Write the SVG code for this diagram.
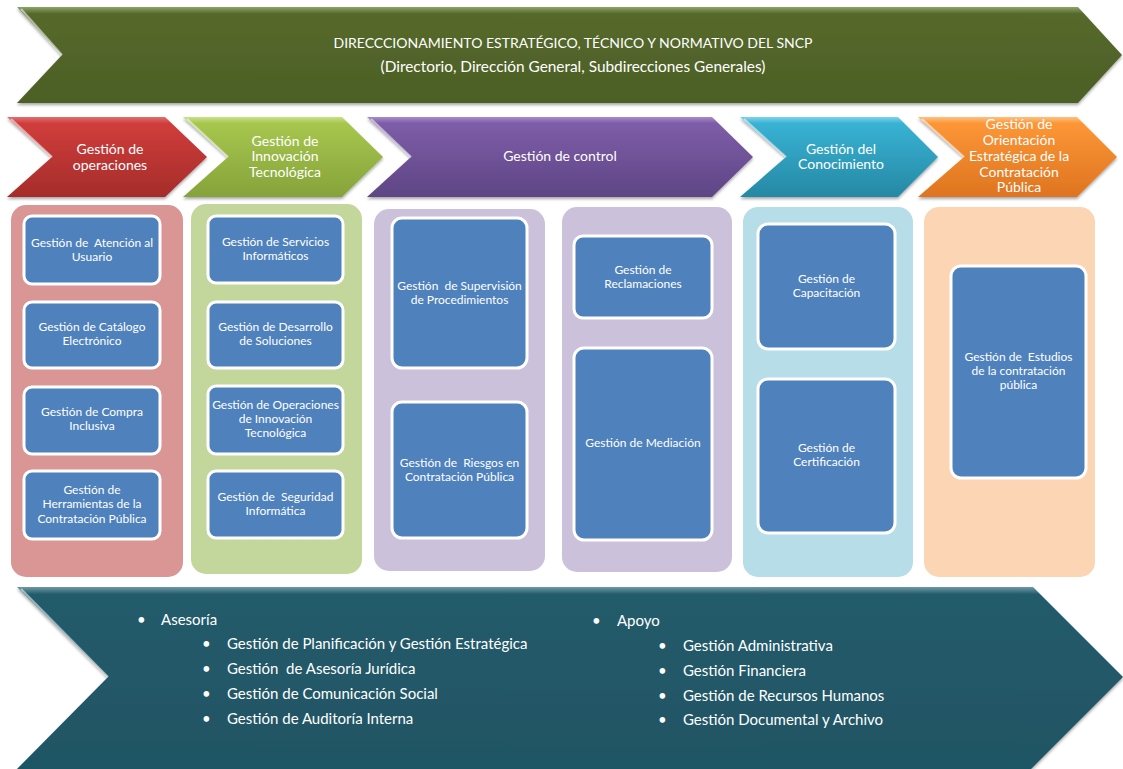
<svg xmlns="http://www.w3.org/2000/svg" width="1123" height="769" viewBox="0 0 1123 769">
<style>
  .t { font-family: Lato, "Open Sans", "Liberation Sans", sans-serif; fill: #ffffff; text-anchor: middle; white-space: pre; }
  .hd { font-size: 14px; }
  .sub { font-size: 15.4px; }
  .cv { font-size: 14px; }
  .bx { font-size: 12px; }
  .bl { font-family: Lato, "Open Sans", "Liberation Sans", sans-serif; fill: #ffffff; font-size: 15px; white-space: pre; }
  .box { fill: #4F81BD; stroke: #ffffff; stroke-width: 3; }
  .hl { fill: none; stroke: #ffffff; stroke-opacity: 0.55; stroke-width: 2; }
</style>
<defs>
  <filter id="sh" x="-5%" y="-10%" width="110%" height="125%">
    <feDropShadow dx="0" dy="2" stdDeviation="1.5" flood-color="#000" flood-opacity="0.35"/>
  </filter>
  <linearGradient id="gOlive" x1="0" y1="0" x2="0" y2="1">
    <stop offset="0" stop-color="#8FA468"/><stop offset="0.07" stop-color="#56692C"/><stop offset="1" stop-color="#4C5F26"/>
  </linearGradient>
  <linearGradient id="gRed" x1="0" y1="0" x2="0" y2="1">
    <stop offset="0" stop-color="#E07070"/><stop offset="0.08" stop-color="#D03D3B"/><stop offset="1" stop-color="#A52C2A"/>
  </linearGradient>
  <linearGradient id="gGreen" x1="0" y1="0" x2="0" y2="1">
    <stop offset="0" stop-color="#C9E08A"/><stop offset="0.08" stop-color="#A7C64E"/><stop offset="1" stop-color="#85A33A"/>
  </linearGradient>
  <linearGradient id="gPurple" x1="0" y1="0" x2="0" y2="1">
    <stop offset="0" stop-color="#A68CC8"/><stop offset="0.08" stop-color="#7D5DA8"/><stop offset="1" stop-color="#5E4584"/>
  </linearGradient>
  <linearGradient id="gCyan" x1="0" y1="0" x2="0" y2="1">
    <stop offset="0" stop-color="#7FD3EA"/><stop offset="0.08" stop-color="#38B2D4"/><stop offset="1" stop-color="#2688A4"/>
  </linearGradient>
  <linearGradient id="gOrange" x1="0" y1="0" x2="0" y2="1">
    <stop offset="0" stop-color="#FFC080"/><stop offset="0.08" stop-color="#FC9636"/><stop offset="1" stop-color="#DE7420"/>
  </linearGradient>
  <linearGradient id="gTeal" x1="0" y1="0" x2="0" y2="1">
    <stop offset="0" stop-color="#6E9AA6"/><stop offset="0.04" stop-color="#245B6A"/><stop offset="1" stop-color="#1F5564"/>
  </linearGradient>
</defs>

<g id="direccionamiento">
  <path d="M17,7 L1078,7 L1122,55 L1078,103 L17,103 L62,55 Z" fill="url(#gOlive)" filter="url(#sh)"/>
  <path class="hl" d="M21,9 L62,55"/>
  <text class="t hd" x="573" y="48">DIRECCCIONAMIENTO ESTRATÉGICO, TÉCNICO Y NORMATIVO DEL SNCP</text>
  <text class="t sub" x="573" y="72">(Directorio, Dirección General, Subdirecciones Generales)</text>
</g>

<g id="chev-operaciones">
  <path d="M7,117 L165,117 L207,157 L165,197 L7,197 L52,157 Z" fill="url(#gRed)" filter="url(#sh)"/>
  <path class="hl" d="M11,119 L52,157"/>
  <text class="t cv"><tspan x="110" y="154">Gestión de</tspan><tspan x="110" y="170">operaciones</tspan></text>
</g>
<g id="chev-innovacion">
  <path d="M183,117 L342,117 L383,157 L342,197 L183,197 L228,157 Z" fill="url(#gGreen)" filter="url(#sh)"/>
  <path class="hl" d="M187,119 L228,157"/>
  <text class="t cv"><tspan x="285" y="146">Gestión de</tspan><tspan x="285" y="161">Innovación</tspan><tspan x="285" y="177">Tecnológica</tspan></text>
</g>
<g id="chev-control">
  <path d="M367,117 L712,117 L753,157 L712,197 L367,197 L411,157 Z" fill="url(#gPurple)" filter="url(#sh)"/>
  <path class="hl" d="M371,119 L411,157"/>
  <text class="t cv" x="560" y="161">Gestión de control</text>
</g>
<g id="chev-conocimiento">
  <path d="M740,117 L898,117 L938,157 L898,197 L740,197 L786,157 Z" fill="url(#gCyan)" filter="url(#sh)"/>
  <path class="hl" d="M744,119 L786,157"/>
  <text class="t cv"><tspan x="841" y="154">Gestión del</tspan><tspan x="841" y="169">Conocimiento</tspan></text>
</g>
<g id="chev-orientacion">
  <path d="M918,117 L1077,117 L1117,157 L1077,197 L918,197 L964,157 Z" fill="url(#gOrange)" filter="url(#sh)"/>
  <path class="hl" d="M922,119 L964,157"/>
  <text class="t cv"><tspan x="1019" y="129">Gestión de</tspan><tspan x="1019" y="145">Orientación</tspan><tspan x="1019" y="161">Estratégica de la</tspan><tspan x="1019" y="177">Contratación</tspan><tspan x="1019" y="192">Pública</tspan></text>
</g>

<g id="col-operaciones">
  <rect x="11" y="205" width="172" height="372" rx="15" fill="#D99694"/>
  <g id="atencion-usuario">
    <rect class="box" x="24" y="216" width="136" height="68" rx="8"/>
    <text class="t bx" xml:space="preserve"><tspan x="92" y="247">Gestión de  Atención al</tspan><tspan x="92" y="261">Usuario</tspan></text>
  </g>
  <g id="catalogo-electronico">
    <rect class="box" x="24" y="302" width="136" height="66" rx="8"/>
    <text class="t bx"><tspan x="92" y="331">Gestión de Catálogo</tspan><tspan x="92" y="345">Electrónico</tspan></text>
  </g>
  <g id="compra-inclusiva">
    <rect class="box" x="24" y="387" width="136" height="67" rx="8"/>
    <text class="t bx"><tspan x="92" y="416">Gestión de Compra</tspan><tspan x="92" y="430">Inclusiva</tspan></text>
  </g>
  <g id="herramientas">
    <rect class="box" x="24" y="471" width="136" height="68" rx="8"/>
    <text class="t bx"><tspan x="92" y="494">Gestión de</tspan><tspan x="92" y="508">Herramientas de la</tspan><tspan x="92" y="523">Contratación Pública</tspan></text>
  </g>
</g>

<g id="col-innovacion">
  <rect x="191" y="204" width="171" height="370" rx="15" fill="#C3D69B"/>
  <g id="servicios-informaticos">
    <rect class="box" x="208" y="216" width="135" height="67" rx="8"/>
    <text class="t bx"><tspan x="275.5" y="246">Gestión de Servicios</tspan><tspan x="275.5" y="260">Informáticos</tspan></text>
  </g>
  <g id="desarrollo-soluciones">
    <rect class="box" x="208" y="302" width="135" height="66" rx="8"/>
    <text class="t bx"><tspan x="275.5" y="331">Gestión de Desarrollo</tspan><tspan x="275.5" y="345">de Soluciones</tspan></text>
  </g>
  <g id="operaciones-innovacion">
    <rect class="box" x="208" y="386" width="135" height="68" rx="8"/>
    <text class="t bx"><tspan x="275.5" y="409">Gestión de Operaciones</tspan><tspan x="275.5" y="423">de Innovación</tspan><tspan x="275.5" y="437">Tecnológica</tspan></text>
  </g>
  <g id="seguridad-informatica">
    <rect class="box" x="208" y="471" width="135" height="67" rx="8"/>
    <text class="t bx" xml:space="preserve"><tspan x="275.5" y="501">Gestión de  Seguridad</tspan><tspan x="275.5" y="515">Informática</tspan></text>
  </g>
</g>

<g id="col-control-1">
  <rect x="374" y="209" width="171" height="362" rx="15" fill="#CCC1DA"/>
  <g id="supervision">
    <rect class="box" x="392" y="218" width="135" height="150" rx="10"/>
    <text class="t bx" xml:space="preserve"><tspan x="459.5" y="290">Gestión  de Supervisión</tspan><tspan x="459.5" y="304">de Procedimientos</tspan></text>
  </g>
  <g id="riesgos">
    <rect class="box" x="392" y="402" width="135" height="136" rx="10"/>
    <text class="t bx" xml:space="preserve"><tspan x="459.5" y="467">Gestión de  Riesgos en</tspan><tspan x="459.5" y="481">Contratación Pública</tspan></text>
  </g>
</g>

<g id="col-control-2">
  <rect x="562" y="207" width="170" height="365" rx="15" fill="#CCC1DA"/>
  <g id="reclamaciones">
    <rect class="box" x="574" y="236" width="138" height="82" rx="9"/>
    <text class="t bx"><tspan x="643" y="274">Gestión de</tspan><tspan x="643" y="288">Reclamaciones</tspan></text>
  </g>
  <g id="mediacion">
    <rect class="box" x="574" y="348" width="138" height="192" rx="10"/>
    <text class="t bx" x="643" y="447">Gestión de Mediación</text>
  </g>
</g>

<g id="col-conocimiento">
  <rect x="743" y="207" width="170" height="370" rx="15" fill="#B7DDE8"/>
  <g id="capacitacion">
    <rect class="box" x="758" y="224" width="137" height="125" rx="10"/>
    <text class="t bx"><tspan x="826.5" y="283">Gestión de</tspan><tspan x="826.5" y="297">Capacitación</tspan></text>
  </g>
  <g id="certificacion">
    <rect class="box" x="758" y="379" width="137" height="154" rx="10"/>
    <text class="t bx"><tspan x="826.5" y="452">Gestión de</tspan><tspan x="826.5" y="466">Certificación</tspan></text>
  </g>
</g>

<g id="col-orientacion">
  <rect x="924" y="207" width="171" height="370" rx="15" fill="#FCD5B5"/>
  <g id="estudios">
    <rect class="box" x="951" y="266" width="135" height="212" rx="10"/>
    <text class="t bx" xml:space="preserve"><tspan x="1018.5" y="361">Gestión de  Estudios</tspan><tspan x="1018.5" y="375">de la contratación</tspan><tspan x="1018.5" y="389">pública</tspan></text>
  </g>
</g>

<g id="asesoria-apoyo">
  <path d="M17,587 L1033,587 L1123,677 L1031,769 L17,769 L108,677 Z" fill="url(#gTeal)" filter="url(#sh)"/>
  <path class="hl" d="M21,589 L108,677"/>
  <g class="bl">
    <text x="137" y="625">•</text><text x="161" y="625">Asesoría</text>
    <text x="202" y="649">•</text><text x="227" y="649">Gestión de Planificación y Gestión Estratégica</text>
    <text x="202" y="674">•</text><text x="227" y="674" xml:space="preserve">Gestión  de Asesoría Jurídica</text>
    <text x="202" y="699">•</text><text x="227" y="699">Gestión de Comunicación Social</text>
    <text x="202" y="724">•</text><text x="227" y="724">Gestión de Auditoría Interna</text>
    <text x="592" y="626">•</text><text x="617" y="626">Apoyo</text>
    <text x="658" y="651">•</text><text x="683" y="651">Gestión Administrativa</text>
    <text x="658" y="676">•</text><text x="683" y="676">Gestión Financiera</text>
    <text x="658" y="701">•</text><text x="683" y="701">Gestión de Recursos Humanos</text>
    <text x="658" y="725">•</text><text x="683" y="725">Gestión Documental y Archivo</text>
  </g>
</g>
</svg>
